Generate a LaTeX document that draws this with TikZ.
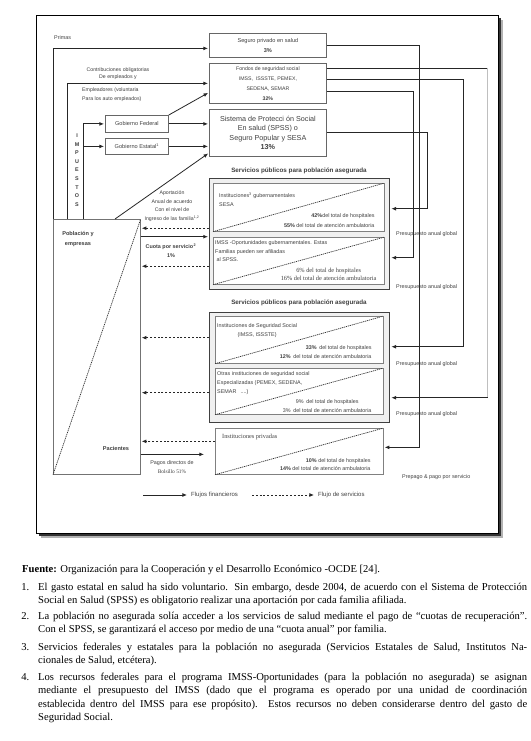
\documentclass[tikz,border=0pt]{standalone}
\usepackage{fontspec}
\setmainfont{Liberation Serif}
\setsansfont{Liberation Sans}
\usepackage{tikz}
\usetikzlibrary{arrows.meta, calc, positioning}

\begin{document}
\begin{tikzpicture}[x=1pt,y=-1pt,>={Latex[length=4.6pt,width=3.8pt]},shorten >=1pt]
  \tikzstyle{every node}=[inner sep=0pt,text=black!75]
  \tikzstyle{lbl}=[font=\sffamily\fontsize{5.4}{9}\selectfont,align=center]
  \tikzstyle{lblb}=[lbl,font=\sffamily\bfseries\fontsize{5.6}{9.4}\selectfont]
  \tikzstyle{rom}=[font=\rmfamily\fontsize{6.3}{8}\selectfont,align=center]
  \tikzstyle{fund}=[draw=black!60,fill=white,line width=0.8pt,anchor=north west,minimum width=117pt]
  \tikzstyle{gov}=[fund,lbl,minimum width=63pt,font=\sffamily\fontsize{5.6}{7}\selectfont]
  \tikzstyle{group}=[draw=black!75,fill=black!6,line width=1.4pt,anchor=north west,minimum width=180pt]
  \tikzstyle{serv}=[draw=black!50,fill=white,line width=0.7pt,anchor=north west]
  \tikzstyle{popbox}=[draw=black!55,line width=0.7pt,anchor=north west]
  \tikzstyle{flow}=[->,draw=black!85,line width=0.8pt]
  \tikzstyle{service}=[flow,dash pattern=on 2pt off 1.8pt]
  \tikzstyle{diag}=[draw=black!80,line width=0.7pt,dash pattern=on 1.2pt off 0.8pt]
  \tikzstyle{note}=[font=\rmfamily\fontsize{10.6}{13.4}\selectfont,text=black,anchor=north west]

  \path[use as bounding box,fill=white] (0,0) rectangle (530,741);

  % frame with shadow
  \fill[black!30] (41,20) rectangle (503,538);
  \fill[black!80] (39,18) rectangle (501,536);
  \draw[fill=white,line width=0.8pt] (36,15) rectangle (498,533);

  % funding bodies
  \node[fund,lbl,minimum height=24pt,font=\sffamily\fontsize{5.6}{10}\selectfont]  (priv)   at (209,33)  {Seguro privado en salud\\\textbf{3\%}};
  \node[fund,lbl,minimum height=40pt,font=\sffamily\fontsize{5.2}{10}\selectfont]  (fondos) at (209,63)  {Fondos de seguridad social\\IMSS,\ \ ISSSTE, PEMEX,\\SEDENA, SEMAR\\\textbf{32\%}};
  \node[fund,lbl,minimum height=47pt,font=\sffamily\fontsize{7.2}{9.6}\selectfont] (spss)   at (209,109) {Sistema de Protecci ón Social\\En salud (SPSS) o\\Seguro Popular y SESA\\\textbf{13\%}};
  \node[gov,minimum height=17pt] (fed) at (105,115) {Gobierno Federal};
  \node[gov,minimum height=16pt] (est) at (105,138) {Gobierno Estatal\textsuperscript{1}};

  % providers
  \node[lblb,font=\sffamily\bfseries\fontsize{6.3}{8}\selectfont] (head1) at (299,171) {Servicios públicos para población asegurada};
  \node[group,minimum height=111pt] (pub1) at (209,178) {};
  \node[serv,minimum width=171pt,minimum height=48pt] (sesa)   at (213,183) {};
  \node[serv,minimum width=171pt,minimum height=47pt] (opor)   at (213,237) {};
  \node[lblb,font=\sffamily\bfseries\fontsize{6.3}{8}\selectfont] (head2) at (299,303) {Servicios públicos para población asegurada};
  \node[group,minimum height=110pt] (pub2) at (209,312) {};
  \node[serv,minimum width=168pt,minimum height=47pt] (segsoc) at (215,316) {};
  \node[serv,minimum width=168pt,minimum height=46pt] (otras)  at (215,368) {};
  \node[serv,minimum width=168pt,minimum height=46pt] (privi)  at (215,428) {};
  \foreach \b in {sesa,opor,segsoc,otras,privi}
    \draw[diag] (\b.south west) -- (\b.north east);

  \node[lbl,align=left,below right=10pt and 6pt of sesa.north west] (sesat) {Instituciones\textsuperscript{3} gubernamentales\\SESA};
  \node[lbl,align=right,font=\sffamily\fontsize{5.4}{10}\selectfont,above left=4pt and 10pt of sesa.south east] (sesap) {\textbf{42\%}del total de hospitales\\\textbf{55\%} del total de atención ambulatoria};
  \node[lbl,align=left,font=\sffamily\fontsize{5.4}{8.5}\selectfont,below right=3.5pt and 2pt of opor.north west] (oport) {IMSS -Oportunidades gubernamentales. Estas\\Familias pueden ser afiliadas\\\ al SPSS.};
  \node[rom,above left=4pt and 8pt of opor.south east] (oporp) {6\% del total de hospitales\\16\% del total de atención ambulatoria};
  \node[lbl,below right=7pt and 2pt of segsoc.north west] (segsoct) {Instituciones de Seguridad Social\\(IMSS, ISSSTE)};
  \node[lbl,align=right,above left=5pt and 12pt of segsoc.south east] (segsocp) {\textbf{33\%}\enspace del total de hospitales\\\textbf{12\%}\enspace del total de atención ambulatoria};
  \node[lbl,align=left,below right=3.5pt and 2pt of otras.north west] (otrast) {Otras instituciones de seguridad social\\Especializadas (PEMEX, SEDENA,\\SEMAR \enspace....)};
  \node[lbl,above left=2pt and 12pt of otras.south east] (otrasp) {9\%\enspace del total de hospitales\\3\%\enspace del total de atención ambulatoria};
  \node[rom,align=left,below right=6pt and 7pt of privi.north west] (privit) {Instituciones privadas};
  \node[lbl,align=right,font=\sffamily\fontsize{5.4}{8}\selectfont,above left=4pt and 13pt of privi.south east] (privip) {\textbf{10\%} del total de hospitales\\\textbf{14\%} del total de atención ambulatoria};

  % population
  \node[popbox,minimum width=87pt,minimum height=255pt] (pop) at (53,219) {};
  \draw[diag] (pop.south west) -- (pop.north east);
  \node[lblb] (popt) at (78,239) {Población y\\empresas};
  \node[lblb] (pac)  at (116,448) {Pacientes};
  \node[lblb,font=\sffamily\bfseries\fontsize{5.4}{8.6}\selectfont] (imp) at (77,170) {I\\M\\P\\U\\E\\S\\T\\O\\S};

  % financial flows into the funds
  \draw[flow] (pop.north west) |- ([yshift=-3pt]priv.west);
  \draw[flow] ($(pop.north west)+(14,0)$) |- (fondos.west);
  \draw[flow] ($(pop.north west)+(30,0)$) |- (fed.west);
  \draw[flow] ($(pop.north west)+(30,0)$) |- (est.west);
  \draw[flow] (fed.east) -- (fed.east -| spss.west);
  \draw[flow] (est.east) -- (est.east -| spss.west);
  \draw[flow] (fed.north east) -- ([yshift=-9pt]fondos.west);
  \draw[flow] ($(pop.north west)+(62,0)$) -- ([yshift=-20pt]spss.west);

  \node[lbl,anchor=west] (primas) at (54,38) {Primas};
  \node[lbl,font=\sffamily\fontsize{5.2}{7.4}\selectfont] (contrib) at (118,73.5) {Contribuciones obligatorias\\De empleados y};
  \node[lbl,align=left,anchor=north west,font=\sffamily\fontsize{5.2}{8.2}\selectfont] (emple) at (82,88) {Empleadores (voluntaria\\Para los auto empleados)};
  \node[lbl,font=\sffamily\fontsize{5.2}{8.6}\selectfont] (aport) at (172,206) {Aportación\\Anual de acuerdo\\Con el nivel de\\Ingreso de las familia\textsuperscript{1,2}};

  % budgets from the funds to the providers
  \draw[flow] (priv.east) -- ++(93,0) |- ([yshift=4pt]privi.east);
  \draw[flow] ([yshift=4pt]fondos.east) -- ++(137,0) |- ([yshift=21pt]pub2.east);
  \draw[flow] ([yshift=-8pt]fondos.east) -- ++(87,0) |- ([yshift=-23.5pt]pub1.east);
  \draw[flow] (spss.east) -- ++(101,0) |- ([yshift=25.5pt]pub1.east);
  \coordinate (otr) at ([yshift=-30pt]pub2.east);
  \draw[draw=black!85,line width=0.8pt] ([yshift=15pt]fondos.east) -- ++(161,0) coordinate (fr);
  \draw[draw=black!25,line width=0.8pt] (fr) -- (fr |- otr);
  \draw[flow] (fr |- otr) -- (otr);
  \foreach \y in {234,287,364,414}
    \node[lbl,anchor=west] (pres\y) at (396,\y) {Presupuesto anual global};
  \node[lbl,anchor=west] (prepago) at (402,477) {Prepago \& pago por servicio};

  % services back to the population
  \coordinate (s1) at ([yshift=6pt]pub1.west);
  \coordinate (s2) at ([yshift=-32pt]pub1.west);
  \coordinate (s3) at ([yshift=30pt]pub2.west);
  \coordinate (s4) at ([yshift=-25pt]pub2.west);
  \coordinate (s5) at ([yshift=10pt]privi.west);
  \foreach \s in {s1,s2,s3,s4,s5}
    \draw[service] (\s) -- (\s -| pop.east);

  % out of pocket payments
  \coordinate (c1) at ([yshift=-2.5pt]pub1.west);
  \coordinate (c2) at ([yshift=-3pt]privi.west);
  \draw[flow] (c1 -| pop.east) -- (c1);
  \draw[flow] (c2 -| pop.east) -- ([xshift=-10pt]c2);
  \node[lblb,font=\sffamily\bfseries\fontsize{5.4}{9.2}\selectfont] (cuota) at (171,250.5) {Cuota por servicio\textsuperscript{\,2}\\1\%};
  \node[lbl,font=\sffamily\fontsize{5.4}{9}\selectfont] (pagos) at (172,467) {Pagos directos de\\{\rmfamily Bolsillo 51\%}};

  % legend
  \node[lbl,anchor=west,font=\sffamily\fontsize{6}{7}\selectfont] (legfin)  at (191,495) {Flujos financieros};
  \node[lbl,anchor=west,font=\sffamily\fontsize{6}{7}\selectfont] (legserv) at (318,495) {Flujo de servicios};
  \draw[flow]    ($(legfin.west)+(-48,0)$)  -- ([xshift=-3pt]legfin.west);
  \draw[service] ($(legserv.west)+(-66,0)$) -- ([xshift=-3pt]legserv.west);

  % source and notes
  \node[note,anchor=west] (fuente) at (22,570) {\textbf{Fuente:} Organización para la Cooperación y el Desarrollo Económico -OCDE [24].};
  \node[note,text width=489pt,align=justify] (nota1) at (38,581) {\strut\llap{1.\hspace{9pt}}El gasto estatal en salud ha sido voluntario. Sin embargo, desde 2004, de acuerdo con el Sistema de Protección\linebreak Social en Salud (SPSS) es obligatorio realizar una aportación por cada familia afiliada.};
  \node[note,text width=489pt,align=justify] (nota2) at (38,610) {\strut\llap{2.\hspace{9pt}}La población no asegurada solía acceder a los servicios de salud mediante el pago de “cuotas de recuperación”.\linebreak Con el SPSS, se garantizará el acceso por medio de una “cuota anual” por familia.};
  \node[note,text width=489pt,align=justify] (nota3) at (38,641) {\strut\llap{3.\hspace{9pt}}Servicios federales y estatales para la población no asegurada (Servicios Estatales de Salud, Institutos Na-\linebreak cionales de Salud, etcétera).};
  \node[note,text width=489pt,align=justify] (nota4) at (38,671) {\strut\llap{4.\hspace{9pt}}Los recursos federales para el programa IMSS-Oportunidades (para la población no asegurada) se asignan\linebreak mediante el presupuesto del IMSS (dado que el programa es operado por una unidad de coordinación\linebreak establecida dentro del IMSS para ese propósito). Estos recursos no deben considerarse dentro del gasto de\linebreak Seguridad Social.};
\end{tikzpicture}
\end{document}
